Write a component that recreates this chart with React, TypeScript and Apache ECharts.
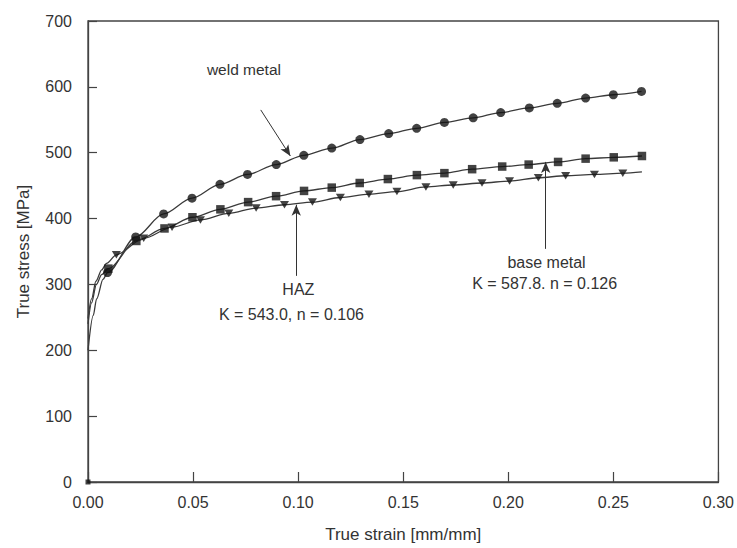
import React, { useEffect, useRef } from "react";
import * as echarts from "echarts";

const FONT = "'Liberation Sans', Arial, sans-serif";

const xMin = 0;
const xMax = 0.3;
const xStep = 0.05;
const yMin = 0;
const yMax = 700;
const yStep = 100;

// marker points [true strain, true stress]
const weldMarkers: [number, number][] = [
  [0.0093, 318], [0.0227, 372], [0.036, 407], [0.0495, 431], [0.0628, 452],
  [0.0759, 467], [0.0896, 482], [0.1027, 496], [0.116, 507], [0.1294, 520],
  [0.1431, 529], [0.1564, 537], [0.1696, 546], [0.1833, 553], [0.1964, 561],
  [0.21, 568], [0.2233, 575], [0.2368, 583], [0.25, 588], [0.2634, 593],
];
const baseMarkers: [number, number][] = [
  [0.0097, 324], [0.023, 366], [0.0364, 385], [0.0497, 402], [0.063, 414],
  [0.0762, 425], [0.0895, 434], [0.1028, 442], [0.116, 447], [0.1293, 454],
  [0.1427, 460], [0.1565, 466], [0.1696, 469], [0.1828, 475], [0.1971, 479],
  [0.2097, 482], [0.2237, 486], [0.2368, 491], [0.2502, 493], [0.2636, 495],
];
const hazMarkers: [number, number][] = [
  [0.0135, 345], [0.0265, 370], [0.04, 387], [0.0535, 398], [0.067, 408],
  [0.08, 416], [0.0935, 421], [0.1068, 425], [0.1201, 432], [0.1337, 437],
  [0.147, 441], [0.1608, 448], [0.1738, 451], [0.1875, 454], [0.2006, 457],
  [0.2143, 462], [0.2273, 465], [0.241, 467], [0.2545, 469],
];
const originMarker: [number, number][] = [[0, 0]];

// start / end portions of the fitted curves (no markers there)
const weldStart: [number, number][] = [[0, 200], [0.0025, 253], [0.0041, 278], [0.0072, 308]];
const baseStart: [number, number][] = [[0, 240], [0.0017, 272], [0.004, 300], [0.0065, 315]];
const hazStart: [number, number][] = [[0, 248], [0.0017, 278], [0.0038, 305], [0.0065, 322], [0.0088, 332]];
const hazEnd: [number, number][] = [[0.2636, 471]];

// annotation arrows [from, to] in data coordinates
const arrows: [[number, number], [number, number]][] = [
  [[0.0822, 565], [0.0963, 495]],
  [[0.0991, 313], [0.0991, 421]],
  [[0.2178, 354], [0.2178, 486]],
];

// annotation texts [x, y, text, size]
const notes: [number, number, string, number][] = [
  [0.0742, 626, "weld metal", 15.5],
  [0.1001, 293, "HAZ", 16],
  [0.0968, 254, "K = 543.0, n = 0.106", 16],
  [0.2182, 334, "base metal", 16],
  [0.2173, 302, "K = 587.8. n = 0.126", 16],
];

const lineColor = "#3a3a3a";
const markColor = "#141414";

export default function App() {
  const ref = useRef<HTMLDivElement>(null);
  useEffect(() => {
    if (!ref.current) return;
    const chart = echarts.init(ref.current, null, { renderer: "svg" });
    const fitLine = (data: [number, number][], extra: any = {}) => ({
      type: "line",
      data,
      smooth: 0.3,
      smoothMonotone: "x",
      showSymbol: false,
      symbol: "none",
      lineStyle: { color: lineColor, width: 1.3 },
      z: 2,
      ...extra,
    });
    chart.setOption({
      animation: false,
      backgroundColor: "#ffffff",
      textStyle: { fontFamily: FONT },
      grid: {
        left: 88,
        right: 14,
        top: 21,
        bottom: 64,
        show: true,
        borderColor: "#444",
        borderWidth: 1.3,
        containLabel: false,
      },
      xAxis: {
        type: "value",
        min: xMin,
        max: xMax,
        interval: xStep,
        name: "True strain [mm/mm]",
        nameLocation: "middle",
        nameGap: 44,
        nameTextStyle: { fontSize: 17, color: "#333", fontFamily: FONT },
        axisLine: { show: true, lineStyle: { color: "#444", width: 1.3 } },
        axisTick: { show: true, inside: true, length: 10, lineStyle: { color: "#444", width: 1.2 } },
        axisLabel: {
          fontSize: 16,
          color: "#333",
          margin: 12,
          fontFamily: FONT,
          formatter: (v: number) => v.toFixed(2),
        },
        splitLine: { show: false },
      },
      yAxis: {
        type: "value",
        min: yMin,
        max: yMax,
        interval: yStep,
        name: "True stress [MPa]",
        nameLocation: "middle",
        nameGap: 56,
        nameRotate: 90,
        nameTextStyle: { fontSize: 17, color: "#333", fontFamily: FONT },
        axisLine: { show: true, lineStyle: { color: "#444", width: 1.3 } },
        axisTick: { show: true, inside: true, length: 9, lineStyle: { color: "#444", width: 1.2 } },
        axisLabel: { fontSize: 16, color: "#333", margin: 16, fontFamily: FONT },
        splitLine: { show: false },
      },
      series: [
        fitLine([...weldStart, ...weldMarkers], {
          markLine: {
            silent: true,
            animation: false,
            symbol: ["none", "arrow"],
            symbolSize: [7, 11],
            lineStyle: { color: "#333", width: 1, type: "solid" },
            label: { show: false },
            data: arrows.map(([a, b]) => [{ coord: a }, { coord: b }]),
          },
        }),
        fitLine([...baseStart, ...baseMarkers]),
        fitLine([...hazStart, ...hazMarkers, ...hazEnd]),
        {
          type: "scatter",
          data: weldMarkers,
          symbol: "circle",
          symbolSize: 9,
          itemStyle: { color: markColor },
          z: 3,
        },
        {
          type: "scatter",
          data: baseMarkers,
          symbol: "rect",
          symbolSize: 8.5,
          itemStyle: { color: markColor },
          z: 3,
        },
        {
          type: "scatter",
          data: hazMarkers,
          symbol: "triangle",
          symbolRotate: 180,
          symbolSize: [9, 7.5],
          itemStyle: { color: markColor },
          z: 3,
        },
        {
          type: "scatter",
          data: originMarker,
          symbol: "rect",
          symbolSize: 5,
          itemStyle: { color: markColor },
          z: 3,
        },
      ],
    });
    const graphics = notes.map(([x, y, text, size]) => {
      const p = chart.convertToPixel({ gridIndex: 0 }, [x, y]) as number[];
      return {
        type: "text",
        x: p[0],
        y: p[1],
        silent: true,
        style: {
          text,
          fill: "#333",
          fontSize: size,
          fontFamily: FONT,
          align: "center",
          verticalAlign: "middle",
        },
      };
    });
    chart.setOption({ graphic: graphics });
    return () => chart.dispose();
  }, []);
  return (
    <div
      ref={ref}
      style={{ position: "fixed", left: 0, top: 0, width: 737, height: 548 }}
    />
  );
}
